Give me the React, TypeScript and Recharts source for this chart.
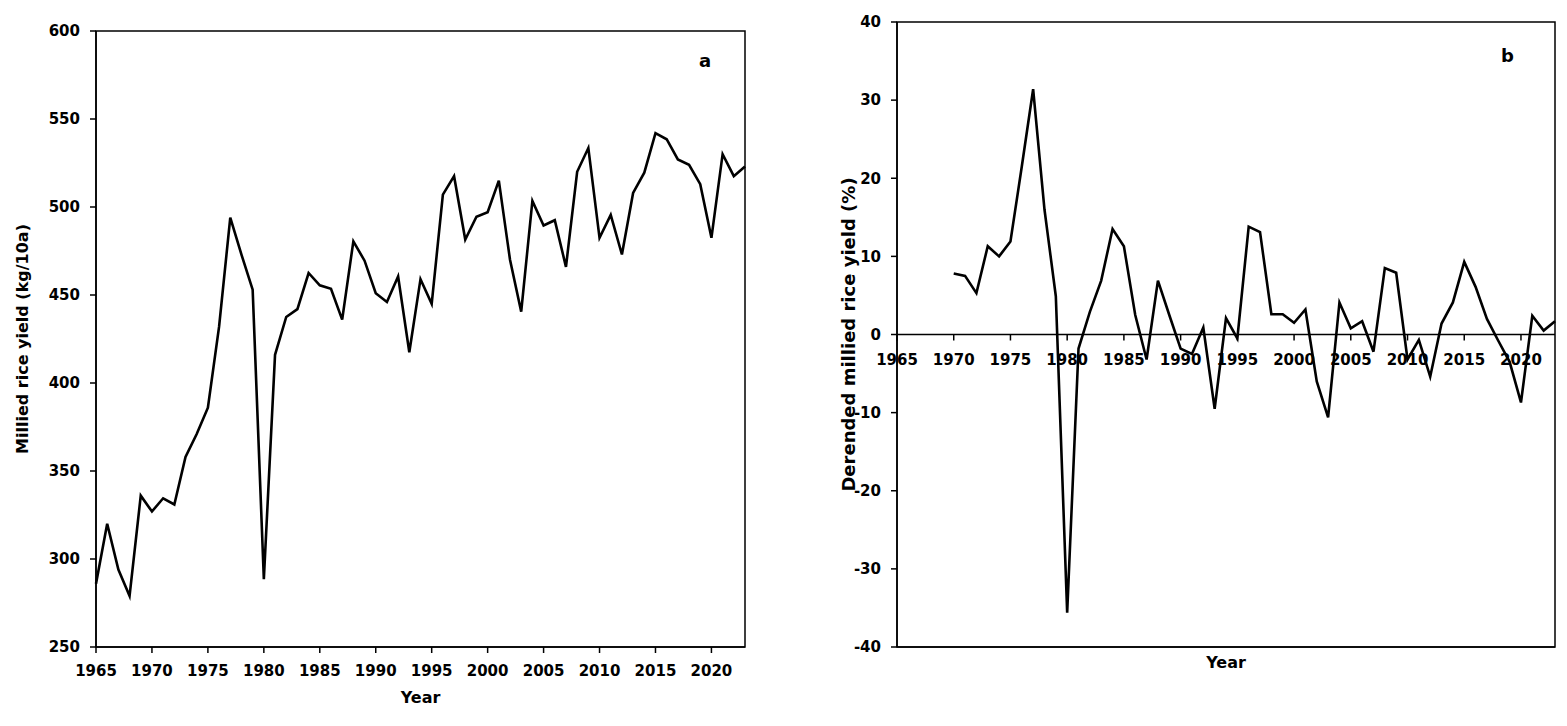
import {
  LineChart,
  Line,
  XAxis,
  YAxis,
  ReferenceArea,
  ReferenceLine,
  ReferenceDot,
} from "recharts";

// panel a: milled rice yield, 1965-2023
const YEARS_A = Array.from({ length: 59 }, (_, i) => 1965 + i);
const YIELD = [
  286, 320, 294, 279, 336, 327, 334.5, 331, 358, 371, 386, 432, 494, 473, 453,
  288.5, 416, 437.5, 442, 462.5, 455.5, 453.5, 436, 480.5, 469.5, 451, 446,
  460.5, 417.5, 459, 445, 507, 517.5, 481.5, 494.5, 497, 515, 470, 440.5, 503.5,
  489.5, 492.5, 466, 520, 533.5, 482.5, 495.5, 473, 508, 519.5, 542, 538.5, 527,
  524, 513, 482.5, 530, 517.5, 523,
];

// panel b: detrended yield (%), 1970-2023
const YEARS_B = Array.from({ length: 54 }, (_, i) => 1970 + i);
const DETRENDED = [
  7.8, 7.5, 5.3, 11.3, 10.0, 11.9, 21.5, 31.4, 16.0, 4.9, -35.6, -1.8, 2.9, 6.9,
  13.5, 11.3, 2.5, -3.2, 6.9, 2.5, -1.8, -2.5, 0.9, -9.5, 2.1, -0.5, 13.8, 13.1,
  2.6, 2.6, 1.5, 3.2, -6.0, -10.6, 4.1, 0.8, 1.7, -2.2, 8.5, 7.9, -3.2, -0.7,
  -5.4, 1.4, 4.1, 9.3, 6.1, 2.0, -0.8, -3.5, -8.7, 2.4, 0.5, 1.7,
];

const YEAR_TICKS = [1965, 1970, 1975, 1980, 1985, 1990, 1995, 2000, 2005, 2010, 2015, 2020];
const TICKS_A = [250, 300, 350, 400, 450, 500, 550, 600];
const TICKS_B = [-40, -30, -20, -10, 0, 10, 20, 30, 40];

const dataA = YEARS_A.map((year, i) => ({ year, value: YIELD[i] }));
const dataB = YEARS_B.map((year, i) => ({ year, value: DETRENDED[i] }));

const FONT = "'DejaVu Sans', Arial, sans-serif";
const tickStyle = { fontFamily: FONT, fontWeight: 700, fontSize: 15, fill: "#000" };
const titleStyle = { fontFamily: FONT, fontWeight: 700, fontSize: 16, fill: "#000" };

function ZeroTick({ cx, cy, text }: { cx: number; cy: number; text: number }) {
  return (
    <g>
      <line x1={cx} y1={cy} x2={cx} y2={cy + 6} stroke="#000" strokeWidth={1.5} />
      <text x={cx} y={cy + 30} textAnchor="middle" style={tickStyle}>
        {text}
      </text>
    </g>
  );
}

export default function App() {
  return (
    <div style={{ position: "absolute", left: 0, top: 0, width: 1567, height: 726, background: "#fff" }}>
      <div style={{ position: "absolute", left: 0, top: 0 }}>
        <LineChart width={760} height={726} data={dataA} margin={{ top: 31, right: 15, bottom: 19, left: 0 }}>
          <XAxis
            dataKey="year"
            type="number"
            domain={[1965, 2023]}
            ticks={YEAR_TICKS}
            interval={0}
            height={60}
            tickSize={6}
            tickMargin={12}
            tick={tickStyle}
            stroke="#000"
            strokeWidth={1.5}
            label={{ value: "Year", position: "insideBottom", offset: 4, style: titleStyle }}
          />
          <YAxis
            type="number"
            domain={[250, 600]}
            ticks={TICKS_A}
            interval={0}
            width={96}
            tickSize={6}
            tickMargin={10}
            tick={tickStyle}
            stroke="#000"
            strokeWidth={1.5}
            label={{
              value: "Millied rice yield (kg/10a)",
              angle: -90,
              position: "insideLeft",
              offset: 22,
              style: { ...titleStyle, textAnchor: "middle" },
            }}
          />
          <ReferenceArea x1={1965} x2={2023} y1={250} y2={600} fill="none" stroke="#000" strokeWidth={1.5} />
          <Line dataKey="value" type="linear" stroke="#000" strokeWidth={2.6} dot={false} isAnimationActive={false} />
        </LineChart>
        <div style={{ position: "absolute", left: 699, top: 50, fontFamily: FONT, fontWeight: 700, fontSize: 18 }}>a</div>
      </div>

      <div style={{ position: "absolute", left: 800, top: 0 }}>
        <LineChart width={767} height={726} data={dataB} margin={{ top: 22, right: 12, bottom: 54, left: 0 }}>
          <XAxis
            dataKey="year"
            type="number"
            domain={[1965, 2023]}
            ticks={YEAR_TICKS}
            height={25}
            tick={false}
            tickLine={false}
            stroke="#000"
            strokeWidth={1.5}
            label={{ value: "Year", position: "insideBottom", offset: 4, style: titleStyle }}
          />
          <YAxis
            type="number"
            domain={[-40, 40]}
            ticks={TICKS_B}
            interval={0}
            width={97}
            tickSize={6}
            tickMargin={10}
            tick={tickStyle}
            stroke="#000"
            strokeWidth={1.5}
            label={{
              value: "Derended millied rice yield (%)",
              angle: -90,
              position: "insideLeft",
              offset: 49,
              style: { ...titleStyle, fontSize: 18, textAnchor: "middle" },
            }}
          />
          <ReferenceArea x1={1965} x2={2023} y1={-40} y2={40} fill="none" stroke="#000" strokeWidth={1.5} />
          <ReferenceLine y={0} stroke="#000" strokeWidth={1.5} />
          {YEAR_TICKS.map((t) => (
            <ReferenceDot
              key={t}
              x={t}
              y={0}
              r={0}
              ifOverflow="visible"
              shape={(p: any) => <ZeroTick cx={p.cx} cy={p.cy} text={t} />}
            />
          ))}
          <Line dataKey="value" type="linear" stroke="#000" strokeWidth={2.6} dot={false} isAnimationActive={false} />
        </LineChart>
        <div style={{ position: "absolute", left: 701, top: 45, fontFamily: FONT, fontWeight: 700, fontSize: 18 }}>b</div>
      </div>
    </div>
  );
}
